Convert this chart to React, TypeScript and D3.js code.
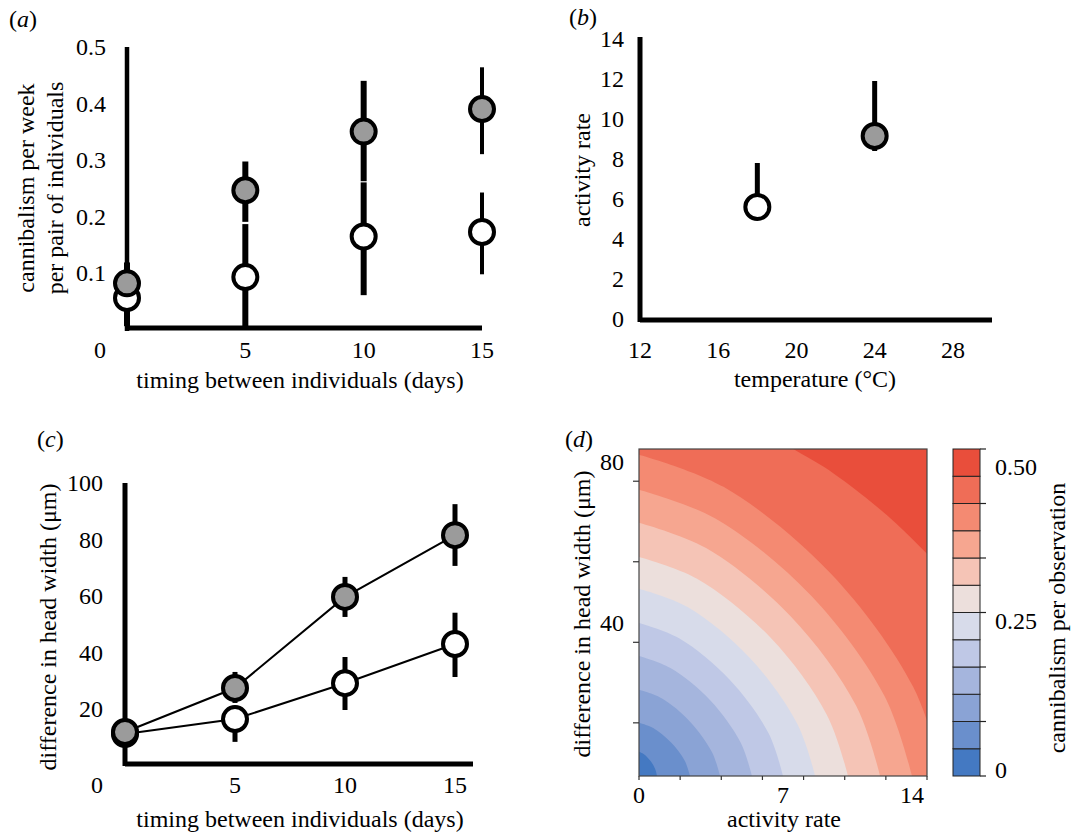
import React from 'react'
import * as d3 from 'd3'

const FONT = 'Liberation Serif, DejaVu Serif, serif'
const FS = 24
const GREY = '#9b9b9b'

// (a) cannibalism vs timing
const A_DAYS = [0, 5, 10, 15]
const A_HIGH = [0.081, 0.246, 0.35, 0.39]
const A_HIGH_LO = [0.005, 0.19, 0.262, 0.31]
const A_HIGH_HI = [0.118, 0.297, 0.44, 0.464]
const A_LOW = [0.055, 0.092, 0.164, 0.172]
const A_LOW_LO = [0.01, 0, 0.06, 0.097]
const A_LOW_HI = [0.09, 0.186, 0.26, 0.242]
const A_YTICKS = [0.1, 0.2, 0.3, 0.4, 0.5]
const A_XTICKS = [0, 5, 10, 15]

// (b) activity vs temperature
const B_TEMPS = [18, 24]
const B_MEAN = [5.6, 9.15]
const B_LO = [5.6, 8.4]
const B_HI = [7.8, 11.9]
const B_FILLED = [false, true]
const B_YTICKS = [0, 2, 4, 6, 8, 10, 12, 14]
const B_XTICKS = [12, 16, 20, 24, 28]

// (c) head width difference vs timing
const C_DAYS = [0, 5, 10, 15]
const C_HIGH = [11.7, 27.3, 59.6, 81.5]
const C_HIGH_LO = [9, 22, 52.5, 70.6]
const C_HIGH_HI = [14, 33, 66.7, 92.5]
const C_LOW = [11, 16.3, 29, 42.9]
const C_LOW_LO = [8, 8.2, 19.5, 31.2]
const C_LOW_HI = [13, 21, 38.3, 54]
const C_YTICKS = [20, 40, 60, 80, 100]
const C_XTICKS = [0, 5, 10, 15]

// (d) contour boundaries [activity, head width], bottom/right end first
const D_BOUNDS: [number, number][][] = [
  [[0.875, 6.8], [0.79, 8.5], [0.55, 10.6], [0.24, 12.2], [0, 12.8]],
  [[2.48, 6.8], [2.23, 10.5], [1.56, 15.1], [0.69, 18.7], [0, 20]],
  [[3.94, 6.8], [3.55, 12.7], [2.48, 20.3], [1.1, 26.1], [0, 28.2]],
  [[5.49, 6.8], [4.94, 15.1], [3.46, 25.6], [1.53, 33.6], [0, 36.6]],
  [[7.0, 6.8], [6.3, 17.4], [4.41, 30.7], [1.95, 41.0], [0, 44.8]],
  [[8.56, 6.8], [7.7, 19.7], [5.39, 36.1], [2.38, 48.7], [0, 53.3]],
  [[10.16, 6.8], [9.14, 21.9], [6.4, 41.1], [2.82, 55.8], [0, 61.2]],
  [[11.72, 6.8], [10.55, 24.3], [7.38, 46.4], [3.26, 63.4], [0, 69.7]],
  [[13.27, 6.8], [11.94, 26.6], [8.36, 51.6], [3.69, 70.8], [0, 77.9]],
  [[14.8, 6.8], [13.32, 29.0], [9.32, 57.1], [4.11, 78.6], [0, 86.6]],
  [[15, 56.9], [14, 62], [12.5, 69.5], [11, 76], [9, 83.5], [7.5, 88], [6, 92.9]],
]
const D_COLORS = ['#4479c2', '#6a8fcc', '#8aa3d5', '#a5b5dd', '#bfc8e6', '#d7dbea',
  '#ecdfdc', '#f5c4b6', '#f6a690', '#f48a72', '#ef6d57', '#e94e3b']
const D_XTICKS = [0, 2, 4, 6, 8, 10, 12, 14]
const D_XLABELS = [0, 7, 14]
const D_YTICKS = [20, 40, 60, 80]
const D_YLABELS = [40, 80]
const CB_LABELS = [0, 0.25, 0.5]

const xA = d3.scaleLinear().domain([0, 15]).range([127, 482])
const yA = d3.scaleLinear().domain([0, 0.5]).range([329, 47])
const xB = d3.scaleLinear().domain([12, 30]).range([640, 992])
const yB = d3.scaleLinear().domain([0, 14]).range([319, 39])
const xC = d3.scaleLinear().domain([0, 15]).range([125, 455])
const yC = d3.scaleLinear().domain([0, 100]).range([765, 483])
const xD = d3.scaleLinear().domain([0, 14]).range([639, 927])
const yD = d3.scaleLinear().domain([6.8, 88]).range([776, 449])
const cbBand = d3.scaleBand<number>().domain(d3.range(D_COLORS.length)).range([776, 449])
const cbY = d3.scaleLinear().domain([0, 0.5]).range([776, 449])

const Dot = ({ x, y, filled }: { x: number; y: number; filled: boolean }) => (
  <circle cx={x} cy={y} r={12} fill={filled ? GREY : '#fff'} stroke="#000" strokeWidth={4} />
)

const Bar = ({ x, y1, y2, w = 5 }: { x: number; y1: number; y2: number; w?: number }) => (
  <line x1={x} x2={x} y1={y1} y2={y2} stroke="#000" strokeWidth={w} />
)

const PanelLabel = ({ x, y, l }: { x: number; y: number; l: string }) => (
  <text x={x} y={y} fontSize={FS}>(<tspan fontStyle="italic">{l}</tspan>)</text>
)

const PanelA = () => (
  <g>
    <PanelLabel x={9} y={27} l="a" />
    <line x1={xA(0)} x2={xA(0)} y1={yA(0.5)} y2={yA(0) + 2} stroke="#000" strokeWidth={4.5} />
    <line x1={xA(0)} x2={xA(15)} y1={yA(0) - 1} y2={yA(0) - 1} stroke="#000" strokeWidth={5} />
    {A_YTICKS.map(v => (
      <text key={v} x={106} y={yA(v)} dy="0.35em" textAnchor="end" fontSize={FS}>{v.toFixed(1)}</text>
    ))}
    {A_XTICKS.map(v => (
      <text key={v} x={v === 0 ? xA(v) - 27 : xA(v)} y={358} textAnchor="middle" fontSize={FS}>{v}</text>
    ))}
    {A_DAYS.map((d, i) => (
      <g key={d}>
        <Bar x={xA(d)} y1={yA(A_LOW_LO[i])} y2={yA(A_LOW_HI[i])} w={i === 3 ? 4 : 6} />
        <Bar x={xA(d)} y1={yA(A_HIGH_LO[i])} y2={yA(A_HIGH_HI[i])} w={i === 3 ? 4 : 6} />
      </g>
    ))}
    {A_DAYS.map((d, i) => <Dot key={'l' + d} x={xA(d)} y={yA(A_LOW[i])} filled={false} />)}
    {A_DAYS.map((d, i) => <Dot key={'h' + d} x={xA(d)} y={yA(A_HIGH[i])} filled />)}
    <text transform="translate(34,188) rotate(-90)" textAnchor="middle" fontSize={FS}>cannibalism per week</text>
    <text transform="translate(63,188) rotate(-90)" textAnchor="middle" fontSize={FS}>per pair of individuals</text>
    <text x={300} y={388} textAnchor="middle" fontSize={FS}>timing between individuals (days)</text>
  </g>
)

const PanelB = () => (
  <g>
    <PanelLabel x={569} y={25} l="b" />
    <line x1={xB(12)} x2={xB(12)} y1={yB(14) - 2} y2={yB(0) + 3} stroke="#000" strokeWidth={5} />
    <line x1={xB(12)} x2={xB(30)} y1={yB(0) + 1} y2={yB(0) + 1} stroke="#000" strokeWidth={5} />
    {B_YTICKS.map(v => (
      <text key={v} x={624} y={yB(v)} dy="0.35em" textAnchor="end" fontSize={FS}>{v}</text>
    ))}
    {B_XTICKS.map(v => (
      <text key={v} x={xB(v)} y={358} textAnchor="middle" fontSize={FS}>{v}</text>
    ))}
    {B_TEMPS.map((t, i) => <Bar key={t} x={xB(t)} y1={yB(B_LO[i])} y2={yB(B_HI[i])} w={5} />)}
    {B_TEMPS.map((t, i) => <Dot key={'d' + t} x={xB(t)} y={yB(B_MEAN[i])} filled={B_FILLED[i]} />)}
    <text transform="translate(590,170) rotate(-90)" textAnchor="middle" fontSize={FS}>activity rate</text>
    <text x={815} y={387} textAnchor="middle" fontSize={FS}>temperature (°C)</text>
  </g>
)

const PanelC = () => {
  const line = d3.line<number>().x((_, i) => xC(C_DAYS[i])).y(v => yC(v))
  return (
    <g>
      <PanelLabel x={37} y={447} l="c" />
      <line x1={xC(0)} x2={xC(0)} y1={yC(100)} y2={yC(0) + 1} stroke="#000" strokeWidth={5} />
      <line x1={xC(0)} x2={473} y1={yC(0) - 1} y2={yC(0) - 1} stroke="#000" strokeWidth={5} />
      {C_YTICKS.map(v => (
        <text key={v} x={103} y={yC(v)} dy="0.35em" textAnchor="end" fontSize={FS}>{v}</text>
      ))}
      {C_XTICKS.map(v => (
        <text key={v} x={v === 0 ? xC(v) - 28 : xC(v)} y={793} textAnchor="middle" fontSize={FS}>{v}</text>
      ))}
      <path d={line(C_LOW) ?? ''} fill="none" stroke="#000" strokeWidth={2} />
      <path d={line(C_HIGH) ?? ''} fill="none" stroke="#000" strokeWidth={2} />
      {C_DAYS.map((d, i) => (
        <g key={d}>
          <Bar x={xC(d)} y1={yC(C_LOW_LO[i])} y2={yC(C_LOW_HI[i])} w={5} />
          <Bar x={xC(d)} y1={yC(C_HIGH_LO[i])} y2={yC(C_HIGH_HI[i])} w={5} />
        </g>
      ))}
      {C_DAYS.map((d, i) => <Dot key={'l' + d} x={xC(d)} y={yC(C_LOW[i])} filled={false} />)}
      {C_DAYS.map((d, i) => <Dot key={'h' + d} x={xC(d)} y={yC(C_HIGH[i])} filled />)}
      <text transform="translate(56,627) rotate(-90)" textAnchor="middle" fontSize={FS}>difference in head width (μm)</text>
      <text x={300} y={827} textAnchor="middle" fontSize={FS}>timing between individuals (days)</text>
    </g>
  )
}

const PanelD = () => {
  const curve = d3.line<[number, number]>().x(p => xD(p[0])).y(p => yD(p[1])).curve(d3.curveCatmullRom.alpha(0.5))
  const region = (pts: [number, number][]) => {
    const first = pts[0]
    const last = pts[pts.length - 1]
    return (curve(pts) ?? '') +
      `L${xD(0)},${yD(last[1])}L${xD(0)},${yD(6.8)}L${xD(first[0])},${yD(6.8)}Z`
  }
  const [y0, y1] = yD.range()
  const [x0, x1] = xD.range()
  return (
    <g>
      <PanelLabel x={565} y={447} l="d" />
      <defs>
        <clipPath id="dclip"><rect x={x0} y={y1} width={x1 - x0} height={y0 - y1} /></clipPath>
      </defs>
      <g clipPath="url(#dclip)">
        <rect x={x0} y={y1} width={x1 - x0} height={y0 - y1} fill={D_COLORS[11]} />
        {D_BOUNDS.map((b, k) => ({ b, k })).reverse().map(({ b, k }) => (
          <path key={k} d={region(b)} fill={D_COLORS[k]} />
        ))}
      </g>
      <rect x={x0} y={y1} width={x1 - x0} height={y0 - y1} fill="none" stroke="#444" strokeWidth={1.2} />
      {D_YTICKS.map(v => <line key={v} x1={x0 - 6} x2={x0} y1={yD(v)} y2={yD(v)} stroke="#333" strokeWidth={1.2} />)}
      {D_XTICKS.map(v => <line key={v} x1={xD(v)} x2={xD(v)} y1={y0} y2={y0 + 4} stroke="#333" strokeWidth={1.2} />)}
      {D_YLABELS.map(v => (
        <text key={v} x={624} y={yD(v) - 20} dy="0.35em" textAnchor="end" fontSize={FS}>{v}</text>
      ))}
      {D_XLABELS.map(v => (
        <text key={v} x={Math.min(Math.max(xD(v), 620), 912)} y={803} textAnchor="middle" fontSize={FS}>{v}</text>
      ))}
      <text transform="translate(590,614) rotate(-90)" textAnchor="middle" fontSize={FS}>difference in head width (μm)</text>
      <text x={784} y={827} textAnchor="middle" fontSize={FS}>activity rate</text>
      {D_COLORS.map((c, i) => (
        <rect key={c} x={953} y={cbBand(i)} width={27} height={cbBand.bandwidth()} fill={c} stroke="#222" strokeWidth={1} />
      ))}
      {d3.range(0, D_COLORS.length + 1, 2).map(i => (
        <line key={i} x1={980} x2={986} y1={776 - i * cbBand.bandwidth()} y2={776 - i * cbBand.bandwidth()} stroke="#222" strokeWidth={1.2} />
      ))}
      {CB_LABELS.map(v => (
        <text key={v} x={995} y={Math.min(Math.max(cbY(v) + 8, 467), 770)} dy="0.35em" fontSize={FS}>{v === 0 ? '0' : v.toFixed(2)}</text>
      ))}
      <text transform="translate(1065,618) rotate(-90)" textAnchor="middle" fontSize={FS}>cannibalism per observation</text>
    </g>
  )
}

export default function App() {
  return (
    <svg width={1074} height={834} style={{ position: 'absolute', left: 0, top: 0, background: '#fff', fontFamily: FONT }}>
      <rect width={1074} height={834} fill="#fff" />
      <PanelA />
      <PanelB />
      <PanelC />
      <PanelD />
    </svg>
  )
}
